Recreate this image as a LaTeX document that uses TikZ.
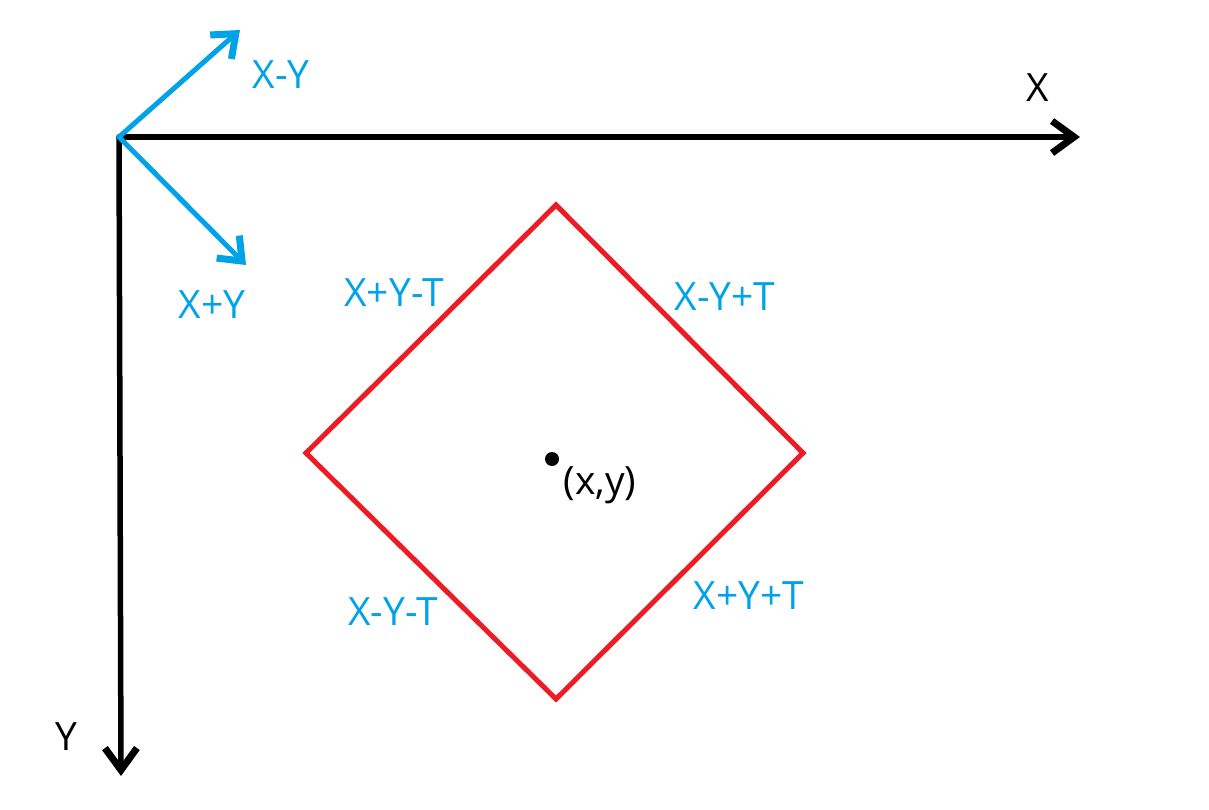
\documentclass[tikz,border=0pt]{standalone}
\usepackage{fontspec}
\setmainfont{Open Sans}
\usetikzlibrary{arrows.meta}
\definecolor{pblue}{RGB}{0,162,232}
\definecolor{pred}{RGB}{237,28,36}
\tikzset{
  axis/.style={line width=5.5pt, black, line cap=round, -{Straight Barb[length=22pt,width=32pt,line width=7pt]}},
  dirarrow/.style={line width=5pt, pblue, line cap=round, -{Straight Barb[length=20pt,width=32pt,line width=7pt]}},
  edge/.style={line width=5pt, pred},
  bluelbl/.style={text=pblue, font=\fontsize{39}{44}\selectfont, inner sep=0pt},
  blacklbl/.style={text=black, font=\fontsize{39}{44}\selectfont, inner sep=0pt},
}
\begin{document}
\begin{tikzpicture}[x=1pt,y=-1pt]
\useasboundingbox (0,0) rectangle (1209,810);
\coordinate (O) at (119,137);
\coordinate (Xend) at (1080,137);
\coordinate (Yend) at (121,776);
\coordinate (XmY) at (240,30);
\coordinate (XpY) at (246,265);
\draw[axis] (O) -- (Xend);
\draw[axis] (O) -- (Yend);
\draw[dirarrow] (O) -- (XmY);
\draw[dirarrow] (O) -- (XpY);
\node[blacklbl] (lx) at (1038,88) {X};
\node[blacklbl] (ly) at (66,737) {Y};
\node[bluelbl] (lxmy) at (281,75) {X-Y};
\node[bluelbl] (lxpy) at (212,305) {X+Y};
\coordinate (T) at (556,205);
\coordinate (R) at (803,453);
\coordinate (B) at (556,699);
\coordinate (L) at (306,453);
\draw[edge, line join=miter] (T) -- (R) -- (B) -- (L) -- cycle;
\fill (552,459) circle (7) coordinate (c);
\node[blacklbl] (lc) at (600,485) {(x,y)};
\node[bluelbl] (l1) at (394,293) {X+Y-T};
\node[bluelbl] (l2) at (725,297) {X-Y+T};
\node[bluelbl] (l3) at (393,612) {X-Y-T};
\node[bluelbl] (l4) at (749,596) {X+Y+T};
\end{tikzpicture}
\end{document}
